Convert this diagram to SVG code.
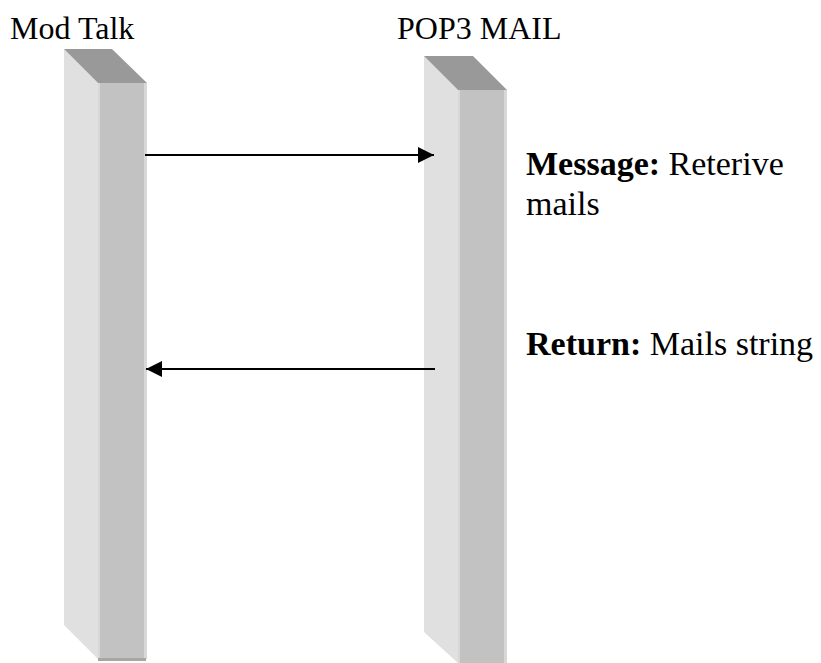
<svg xmlns="http://www.w3.org/2000/svg" width="821" height="663" viewBox="0 0 821 663">
<defs>
<style>
.title{font-family:"Liberation Serif","Times New Roman",serif;font-size:32px;fill:#000}
.lbl{font-family:"Liberation Serif","Times New Roman",serif;font-size:34px;fill:#000}
.b{font-weight:bold}
.top{fill:#999999}
.side{fill:#e0e0e0}
.front{fill:#c2c2c2}
.edge{fill:#d8d8d8}
.base{fill:#a6a6a6}
.conn{stroke:#000;stroke-width:2;fill:none}
</style>
<marker id="ah" markerWidth="16" markerHeight="16" refX="16" refY="8" orient="auto" markerUnits="userSpaceOnUse">
<path d="M0,0 L16,8 L0,16 Z" fill="#000"/>
</marker>
</defs>
<rect width="821" height="663" fill="#fff"/>
<g id="modtalk">
<polygon class="side" points="64,49 98,83 98,659 64,625"/>
<polygon class="top" points="64,49 112,49 147,83 98,83"/>
<rect class="front" x="98" y="83" width="49" height="576"/>
<rect class="edge" x="98" y="83" width="2" height="576"/>
<rect class="edge" x="144" y="83" width="3" height="576"/>
<rect class="base" x="98" y="658" width="48" height="3"/>
<text class="title" x="10" y="39">Mod Talk</text>
</g>
<g id="pop3mail">
<polygon class="side" points="424,56 458,90 458,663 424,632"/>
<polygon class="top" points="424,56 473,56 507,90 458,90"/>
<rect class="front" x="458" y="90" width="49" height="573"/>
<rect class="edge" x="458" y="90" width="2" height="573"/>
<rect class="edge" x="504" y="90" width="3" height="573"/>
<text class="title" x="397" y="39">POP3 MAIL</text>
</g>
<g id="connectors">
<line class="conn" x1="145" y1="155" x2="434" y2="155" marker-end="url(#ah)"/>
<line class="conn" x1="435" y1="369" x2="146" y2="369" marker-end="url(#ah)"/>
</g>
<g id="labels">
<text class="lbl" x="526" y="175"><tspan class="b">Message:</tspan> Reterive</text>
<text class="lbl" x="526" y="215">mails</text>
<text class="lbl" x="526" y="355"><tspan class="b">Return:</tspan> Mails string</text>
</g>
</svg>
